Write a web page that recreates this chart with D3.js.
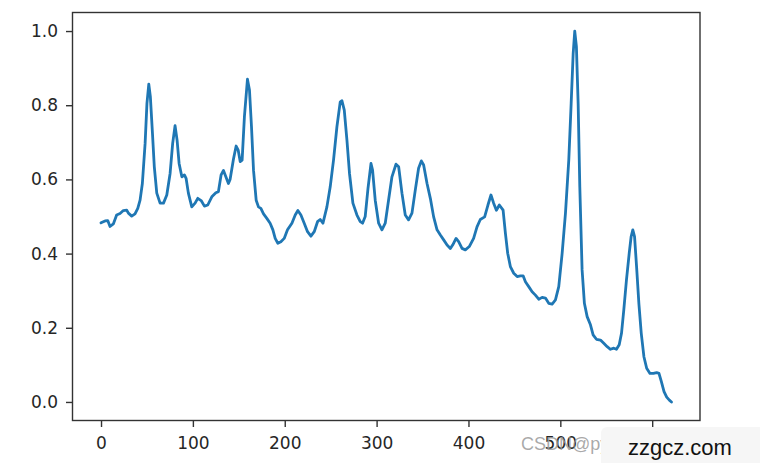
<!DOCTYPE html>
<html><head><meta charset="utf-8">
<script src="https://cdn.jsdelivr.net/npm/d3@7"></script>
<style>html,body{margin:0;padding:0;background:#fff;}svg{display:block;}</style>
</head><body>
<script>
const xValues = [0,4.4,7.3,9.8,13.4,17,20.7,24.3,28,29.8,33.4,37,40,42.5,45,48,50,52,53.7,56,58,60.7,64.3,68,71.6,75.2,78,80.6,82.8,85,88,90.8,92.6,95.1,98.8,102.4,105.3,109,112.6,116.2,120.6,125,127.8,130.7,133.3,135.9,138.7,140.5,144.2,147.1,149.3,151.5,153.6,156.1,159.4,161.6,163.8,166,168.9,171.4,174,176.9,180.5,184.1,187.1,189.6,192.5,195.8,199.4,203,207.8,211.4,214.3,217.6,221.2,224.8,228.5,232.1,235.7,238.6,241.6,245.9,249.5,253.1,256.8,260.4,262.3,264.8,267.7,270.5,274.2,278.6,282.2,284.7,287.6,290.6,293.9,295.6,298.5,302.2,305.8,309.4,313,316.7,321.1,324,327.6,331.2,334.8,338.5,342.1,345.7,348.7,351.2,354.9,358.5,362.1,365.8,369.4,373,376.7,380.3,382.8,386.5,389.3,393,396.6,400.9,405.6,409.3,412.9,417.6,421.2,424.5,427.4,430.4,433.6,437.7,440.2,442.7,445.6,449.3,453,456.5,459.5,462,465.6,469.3,472.9,476.5,480.2,483.8,487.4,491.1,494.7,498.3,502,505.6,509.2,511.8,514,515.7,517.5,519.4,521.2,523.7,526.2,529.2,532.8,535.7,539.3,543.7,547.3,551,554.6,558.2,561.1,564.1,566.6,569.1,572,575,577.1,578.9,580.8,583,585.5,588.1,591,594,597.6,601.3,604.9,607.4,610,612.9,615.8,618.7,621];
const yValues = [0.483,0.488,0.489,0.473,0.480,0.504,0.508,0.516,0.517,0.509,0.501,0.507,0.522,0.544,0.589,0.697,0.805,0.857,0.823,0.724,0.634,0.563,0.536,0.536,0.558,0.616,0.697,0.745,0.706,0.643,0.607,0.612,0.603,0.563,0.526,0.536,0.549,0.543,0.528,0.531,0.553,0.564,0.567,0.612,0.624,0.607,0.589,0.600,0.655,0.690,0.679,0.648,0.652,0.769,0.870,0.841,0.742,0.625,0.544,0.526,0.522,0.507,0.495,0.482,0.464,0.441,0.428,0.432,0.441,0.464,0.482,0.504,0.516,0.504,0.482,0.459,0.447,0.459,0.486,0.492,0.482,0.526,0.580,0.652,0.742,0.809,0.812,0.787,0.706,0.616,0.536,0.504,0.486,0.482,0.500,0.575,0.643,0.625,0.544,0.482,0.464,0.482,0.544,0.607,0.641,0.634,0.563,0.504,0.491,0.509,0.571,0.630,0.650,0.639,0.589,0.549,0.499,0.464,0.450,0.437,0.423,0.414,0.423,0.441,0.432,0.414,0.410,0.419,0.441,0.472,0.492,0.499,0.531,0.558,0.536,0.517,0.531,0.517,0.455,0.401,0.365,0.347,0.338,0.340,0.340,0.324,0.311,0.297,0.288,0.277,0.282,0.280,0.266,0.264,0.275,0.311,0.401,0.509,0.652,0.805,0.940,1.000,0.958,0.805,0.580,0.356,0.266,0.230,0.208,0.181,0.169,0.167,0.158,0.149,0.142,0.145,0.142,0.154,0.185,0.248,0.329,0.401,0.446,0.464,0.446,0.365,0.266,0.185,0.122,0.091,0.077,0.077,0.079,0.077,0.055,0.028,0.013,0.005,0.000];
const xTicks = [0,100,200,300,400,500,600];
const yTicks = [0.0,0.2,0.4,0.6,0.8,1.0];
const watermark1 = "CSDN@python";
const watermark2 = "zzgcz.com";

const W = 760, H = 463;
const L = 72.5, R = 700, T = 12.5, B = 420.5;
const svg = d3.select("body").append("svg").attr("width", W).attr("height", H);

const x = d3.scaleLinear().domain([-31.05, 652.05]).range([L, R]);
const y = d3.scaleLinear().domain([-0.05, 1.05]).range([B, T]);

const font = "DejaVu Sans, sans-serif";
const fs = 17;

const pts = xValues.map((v, i) => [v, yValues[i]]);
svg.append("path").datum(pts)
  .attr("fill", "none").attr("stroke", "#1f77b4").attr("stroke-width", 2.8)
  .attr("stroke-linejoin", "round").attr("stroke-linecap", "round")
  .attr("d", d3.line().x(d => x(d[0])).y(d => y(d[1])));

const xAxis = svg.append("g").attr("transform", `translate(0,${B})`)
  .call(d3.axisBottom(x).tickValues(xTicks).tickFormat(d3.format("d")).tickSize(6.5).tickPadding(10));
const yAxis = svg.append("g").attr("transform", `translate(${L},0)`)
  .call(d3.axisLeft(y).tickValues(yTicks).tickFormat(d3.format(".1f")).tickSize(6.5).tickPadding(8));
[xAxis, yAxis].forEach(g => {
  g.select(".domain").remove();
  g.selectAll(".tick line").attr("stroke", "#333").attr("stroke-width", 1.4);
  g.selectAll(".tick text").attr("fill", "#262626").style("font-family", font).style("font-size", fs + "px");
});

svg.append("rect").attr("x", L).attr("y", T).attr("width", R - L).attr("height", B - T)
  .attr("fill", "none").attr("stroke", "#333").attr("stroke-width", 1.4);

svg.append("text").attr("x", 521).attr("y", 450).text(watermark1)
  .attr("fill", "#9a9a9a").attr("fill-opacity", 0.85).style("font-family", "Liberation Sans, Arial, sans-serif").style("font-size", "18px");
svg.append("rect").attr("x", 601).attr("y", 427).attr("width", 170).attr("height", 45).attr("rx", 6)
  .attr("fill", "#f6f6f6");
svg.append("text").attr("x", 628).attr("y", 455).text(watermark2)
  .attr("fill", "#111").style("font-family", "Liberation Sans, Arial, sans-serif").style("font-size", "22px");
</script>
</body></html>
